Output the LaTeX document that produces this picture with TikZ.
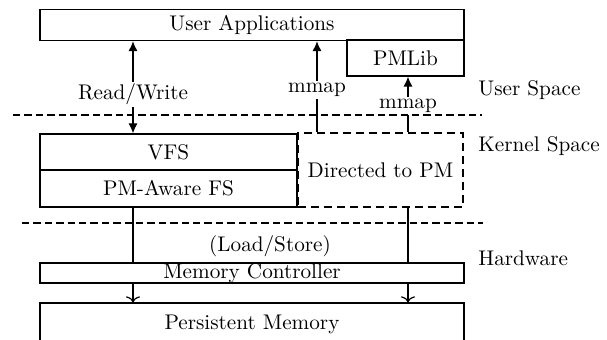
\documentclass[tikz,border=0pt]{standalone}
\usetikzlibrary{arrows.meta}
\begin{document}
\begin{tikzpicture}[>={Latex[length=5pt,width=4.5pt]}, x=0.5pt, y=-0.5pt,
  every node/.append style={font=\fontsize{10.6}{12.5}\selectfont},
  box/.style={draw, semithick, inner sep=0pt, minimum width=#1},
  sep/.style={line width=1.3pt, dash pattern=on 3.7pt off 2pt},
  lbl/.style={fill=white, inner sep=1pt},
  side/.style={anchor=west, inner sep=0pt}]
\useasboundingbox (0,0) rectangle (607,340);

\node[box=212pt, minimum height=15.5pt] (ua) at (252,25) {User Applications};
\node[box=58.5pt, minimum height=18pt] (pmlib) at (405.5,58) {PMLib};
\node[box=128.5pt, minimum height=18pt] (vfs) at (168.5,152) {VFS};
\node[box=128.5pt, minimum height=18.5pt] (fs) at (168.5,188.5) {PM-Aware FS};
\node[box=82.5pt, minimum height=37pt, line width=1.3pt, dash pattern=on 4pt off 2.5pt] (dpm) at (380.5,170) {Directed to PM};
\node[box=212pt, minimum height=10pt] (mc) at (252,273) {Memory Controller};
\node[box=212pt, minimum height=21pt] (pm) at (252,324) {Persistent Memory};

\coordinate (lx) at (133,0);
\coordinate (mx) at (317,0);
\coordinate (rx) at (408,0);

\draw[semithick, <->] (lx |- ua.south) -- node[lbl, pos=0.58]{Read/Write} (lx |- vfs.north);
\draw[semithick, ->] (mx |- dpm.north) -- node[lbl, pos=0.46]{mmap} (mx |- ua.south);
\draw[semithick, ->] (rx |- dpm.north) -- node[lbl, pos=0.47]{mmap} (rx |- pmlib.south);
\draw[semithick] (lx |- fs.south) -- (lx |- mc.north);
\draw[semithick] (rx |- dpm.south) -- (rx |- mc.north);
\node (ls) at (270,246) {(Load/Store)};
\draw[semithick, -{To[length=3pt,width=7pt]}] (lx |- mc.south) -- (lx |- pm.north);
\draw[semithick, -{To[length=3pt,width=7pt]}] (rx |- mc.south) -- (rx |- pm.north);

% user / kernel / hardware
\coordinate (s1a) at (13,115); \coordinate (s1b) at (482,115);
\coordinate (s2a) at (22,223); \coordinate (s2b) at (483,223);
\draw[sep] (s1a) -- (s1b);
\draw[sep] (s2a) -- (s2b);
\node[side] (us) at (478,90) {User Space};
\node[side] (ks) at (478,146) {Kernel Space};
\node[side] (hw) at (478,258) {Hardware};
\end{tikzpicture}
\end{document}
